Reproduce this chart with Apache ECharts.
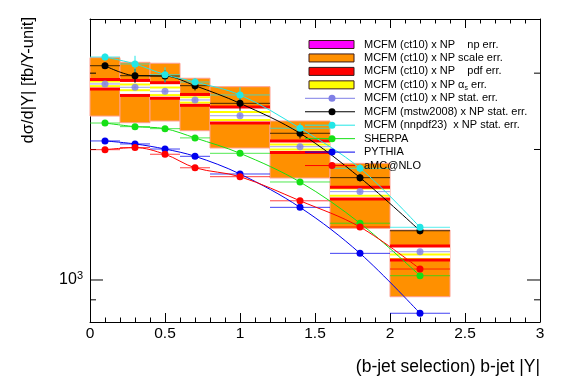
<!DOCTYPE html>
<html><head><meta charset="utf-8">
<script src="https://cdn.jsdelivr.net/npm/echarts@6/dist/echarts.min.js"></script>
<style>html,body{margin:0;padding:0;background:#fff}#c{width:567px;height:384px}</style>
</head><body><div id="c"></div>
<script>
// ---- data ----
const binEdges   = [0, 0.2, 0.4, 0.6, 0.8, 1.2, 1.6, 2.0, 2.4];
const binCenters = [0.1, 0.3, 0.5, 0.7, 1.0, 1.4, 1.8, 2.2];
const scaleHi = [3257, 3178, 3162, 2920, 2792, 2327, 1858, 1304];
const scaleLo = [2389, 2306, 2327, 2210, 2016, 1719, 1316, 915];
const pdfHi   = [2901, 2886, 2852, 2679, 2506, 2093, 1636, 1198];
const pdfLo   = [2758, 2665, 2626, 2529, 2302, 1968, 1538, 1112];
const asHi    = [2870, 2825, 2780, 2640, 2441, 2055, 1625, 1145];
const asLo    = [2800, 2740, 2670, 2565, 2339, 2000, 1565, 1118];
const ct10    = [2833, 2783, 2725, 2602, 2393, 2030, 1599, 1162];
const ct10Err = [20, 20, 20, 20, 20, 15, 12, 10];
const mstw    = [3121, 2960, 2955, 2807, 2556, 2180, 1722, 1299];
const mstwErr = [50, 110, 90, 70, 100, 60, 35, 25];
const nnpdf   = [3269, 3150, 2976, 2862, 2672, 2239, 1810, 1323];
const nnpdfErr= [60, 140, 120, 60, 110, 60, 40, 20];
const sherpa  = [2302, 2258, 2234, 2127, 1960, 1683, 1352, 1023];
const pythia  = [2093, 2060, 2005, 1929, 1756, 1471, 1152, 838];
const amcnlo  = [1998, 2020, 1950, 1815, 1731, 1523, 1325, 1060];
const yMajorTicks = [1000];
const yMinorTicks = [900, 2000, 3000];
const xTitle = '(b-jet selection) b-jet |Y|';
const yTitle = 'dσ/d|Y| [fb/Y-unit]';
const legendLabels = [
  'MCFM (ct10) x NP    np err.',
  'MCFM (ct10) x NP scale err.',
  'MCFM (ct10) x NP    pdf err.',
  'MCFM (ct10) x NP {g|α}{s|s} err.',
  'MCFM (ct10) x NP stat. err.',
  'MCFM (mstw2008) x NP stat. err.',
  'MCFM (nnpdf23)  x NP stat. err.',
  'SHERPA',
  'PYTHIA',
  'aMC@NLO'
];

// ---- styles ----
const FONT = 'Liberation Sans, Arial, Helvetica, sans-serif';
const C = {
  np: '#ff00ff', scale: '#ff9000', pdf: '#ff0000', as: '#ffff00',
  ct10: '#7f7fe6', mstw: '#000000', nnpdf: '#22e6e6',
  sherpa: '#16e016', pythia: '#0000ee', amc: '#ff0000'
};
const legendKinds = ['box','box','box','box','line','line','line','line','line','line'];
const legendColors = [C.np, C.scale, C.pdf, C.as, C.ct10, C.mstw, C.nnpdf, C.sherpa, C.pythia, C.amc];

function boxData(lo, hi) {
  return binCenters.map((c, i) => [binEdges[i], binEdges[i + 1], lo[i], hi[i]]);
}
function errData(vals, errs) {
  return binCenters.map((c, i) => [binEdges[i], binEdges[i + 1], c, vals[i],
    vals[i] - (errs ? errs[i] : 0), vals[i] + (errs ? errs[i] : 0)]);
}
function ptData(vals) { return binCenters.map((c, i) => [c, vals[i]]); }

function boxRender(params, api) {
  const p1 = api.coord([api.value(0), api.value(3)]);
  const p2 = api.coord([api.value(1), api.value(2)]);
  return { type: 'rect', shape: { x: p1[0], y: p1[1], width: p2[0] - p1[0], height: p2[1] - p1[1] },
    style: { fill: C.scale, stroke: '#ff9f90', lineWidth: 1 } };
}
function pdfRender(params, api) {
  const i = params.dataIndex;
  const a = api.coord([api.value(0), api.value(3)]);
  const b = api.coord([api.value(1), api.value(2)]);
  const w = b[0] - a[0];
  const y1 = api.coord([0, asHi[i]])[1];
  const y2 = api.coord([0, asLo[i]])[1];
  return { type: 'group', children: [
    { type: 'rect', shape: { x: a[0], y: a[1], width: w, height: b[1] - a[1] }, style: { fill: '#ffffff' } },
    { type: 'rect', shape: { x: a[0], y: y1 - 1, width: w, height: 2 }, style: { fill: C.as } },
    { type: 'rect', shape: { x: a[0], y: y2 - 1, width: w, height: 2 }, style: { fill: C.as } },
    { type: 'rect', shape: { x: a[0], y: a[1] - 1.5, width: w, height: 3 }, style: { fill: C.pdf } },
    { type: 'rect', shape: { x: a[0], y: b[1] - 1.5, width: w, height: 3 }, style: { fill: C.pdf } }
  ]};
}
function errRender(color) {
  return function (params, api) {
    const a = api.coord([api.value(0), api.value(3)]);
    const b = api.coord([api.value(1), api.value(3)]);
    const c1 = api.coord([api.value(2), api.value(4)]);
    const c2 = api.coord([api.value(2), api.value(5)]);
    return { type: 'group', children: [
      { type: 'line', shape: { x1: a[0], y1: a[1], x2: b[0], y2: b[1] }, style: { stroke: color, lineWidth: 1, opacity: 0.75 } },
      { type: 'line', shape: { x1: c1[0], y1: c1[1], x2: c2[0], y2: c2[1] }, style: { stroke: color, lineWidth: 1 } }
    ]};
  };
}
function tickRender(len) {
  return function (params, api) {
    const l = api.coord([0, api.value(1)]);
    const r = api.coord([3, api.value(1)]);
    return { type: 'group', children: [
      { type: 'line', shape: { x1: l[0], y1: l[1], x2: l[0] + len, y2: l[1] }, style: { stroke: '#000', lineWidth: 1 } },
      { type: 'line', shape: { x1: r[0] - len, y1: r[1], x2: r[0], y2: r[1] }, style: { stroke: '#000', lineWidth: 1 } }
    ]};
  };
}

const series = [];
series.push({ type: 'custom', name: 'scale', renderItem: boxRender, data: boxData(scaleLo, scaleHi),
  encode: { x: [0, 1], y: [2, 3] }, z: 1, silent: true });
series.push({ type: 'custom', name: 'pdf', renderItem: pdfRender, data: boxData(pdfLo, pdfHi),
  encode: { x: [0, 1], y: [2, 3] }, z: 2, silent: true });
series.push({ type: 'custom', renderItem: tickRender(13), data: yMajorTicks.map(v => [0, v]),
  encode: { x: 0, y: 1 }, z: 3, silent: true });
series.push({ type: 'custom', renderItem: tickRender(6), data: yMinorTicks.map(v => [0, v]),
  encode: { x: 0, y: 1 }, z: 3, silent: true });

const pointSeries = [
  { vals: ct10, errs: ct10Err, color: C.ct10, line: false },
  { vals: mstw, errs: mstwErr, color: C.mstw, line: true },
  { vals: nnpdf, errs: nnpdfErr, color: C.nnpdf, line: true },
  { vals: sherpa, errs: null, color: C.sherpa, line: true },
  { vals: pythia, errs: null, color: C.pythia, line: true },
  { vals: amcnlo, errs: null, color: C.amc, line: true }
];
pointSeries.forEach((s, k) => {
  series.push({ type: 'custom', renderItem: errRender(s.color), data: errData(s.vals, s.errs),
    encode: { x: [0, 1, 2], y: [3, 4, 5] }, z: 4, silent: true, clip: true });
  series.push({ type: s.line ? 'line' : 'scatter', data: ptData(s.vals), smooth: s.line ? 0.35 : undefined,
    symbol: 'circle', symbolSize: 7, showSymbol: true,
    itemStyle: { color: s.color }, lineStyle: { color: s.color, width: 1 },
    z: 5 + k, silent: true });
});

// legend graphics
const graphic = [];
const lx0 = 309, lx1 = 354, ltx = 364, ly0 = 44.5, ldy = 13.45;
legendLabels.forEach((lab, i) => {
  const y = ly0 + i * ldy;
  if (legendKinds[i] === 'box') {
    graphic.push({ type: 'rect', shape: { x: lx0, y: y - 4, width: lx1 - lx0, height: 8 },
      style: { fill: legendColors[i], stroke: '#3a1a1a', lineWidth: 1 }, z: 100 });
  } else {
    graphic.push({ type: 'line', shape: { x1: 305, y1: y, x2: 355, y2: y },
      style: { stroke: legendColors[i], lineWidth: 1 }, z: 100 });
    graphic.push({ type: 'circle', shape: { cx: 332, cy: y, r: 3.5 },
      style: { fill: legendColors[i] }, z: 100 });
  }
  graphic.push({ type: 'text', x: ltx, y: y, z: 100,
    style: { text: lab, fontSize: 11, fontFamily: FONT, fill: '#000', verticalAlign: 'middle', align: 'left',
      rich: { g: { fontSize: 11, fontFamily: FONT }, s: { fontSize: 7, fontFamily: FONT, padding: [6, 0, 0, 0] } } } });
});
graphic.push({ type: 'text', x: 540, y: 367, z: 100,
  style: { text: xTitle, fontSize: 17.5, fontFamily: FONT, fill: '#000', align: 'right', verticalAlign: 'middle' } });
graphic.push({ type: 'text', x: 28, y: 17, rotation: Math.PI / 2, z: 100,
  style: { text: yTitle, fontSize: 16.5, fontFamily: FONT, fill: '#000', align: 'right', verticalAlign: 'middle' } });

const axisLine = { show: true, onZero: false, lineStyle: { color: '#000', width: 1 } };
const option = {
  animation: false,
  backgroundColor: '#fff',
  grid: { left: 90, right: 27, top: 19, bottom: 62, containLabel: false },
  xAxis: [
    { type: 'value', min: 0, max: 3, interval: 0.5, position: 'bottom', axisLine,
      axisTick: { show: true, inside: true, length: 9, lineStyle: { color: '#000' } },
      minorTick: { show: true, splitNumber: 5, length: 4.5, lineStyle: { color: '#000' } },
      splitLine: { show: false }, minorSplitLine: { show: false },
      axisLabel: { show: true, margin: 4, fontSize: 15.5, fontFamily: FONT, color: '#000',
        formatter: v => String(+v.toFixed(1)) } },
    { type: 'value', min: 0, max: 3, interval: 0.5, position: 'top', axisLine,
      axisTick: { show: true, inside: true, length: 9, lineStyle: { color: '#000' } },
      minorTick: { show: true, splitNumber: 5, length: 4.5, lineStyle: { color: '#000' } },
      splitLine: { show: false }, axisLabel: { show: false } }
  ],
  yAxis: [
    { type: 'log', logBase: 10, min: 800, max: 4000, position: 'left', axisLine,
      axisTick: { show: false }, splitLine: { show: false }, minorTick: { show: false },
      axisLabel: { show: true, margin: 7, fontFamily: FONT, color: '#000',
        formatter: v => (Math.abs(v - 1000) < 1e-6 ? '{b|10}{s|3}' : ''),
        rich: { b: { fontSize: 16, fontFamily: FONT, color: '#000' },
                s: { fontSize: 11, fontFamily: FONT, color: '#000', padding: [0, 0, 8, 0] } } } },
    { type: 'log', logBase: 10, min: 800, max: 4000, position: 'right', axisLine,
      axisTick: { show: false }, splitLine: { show: false }, axisLabel: { show: false } }
  ],
  graphic: graphic,
  series: series
};
const chart = echarts.init(document.getElementById('c'));
chart.setOption(option);
</script>
</body></html>
